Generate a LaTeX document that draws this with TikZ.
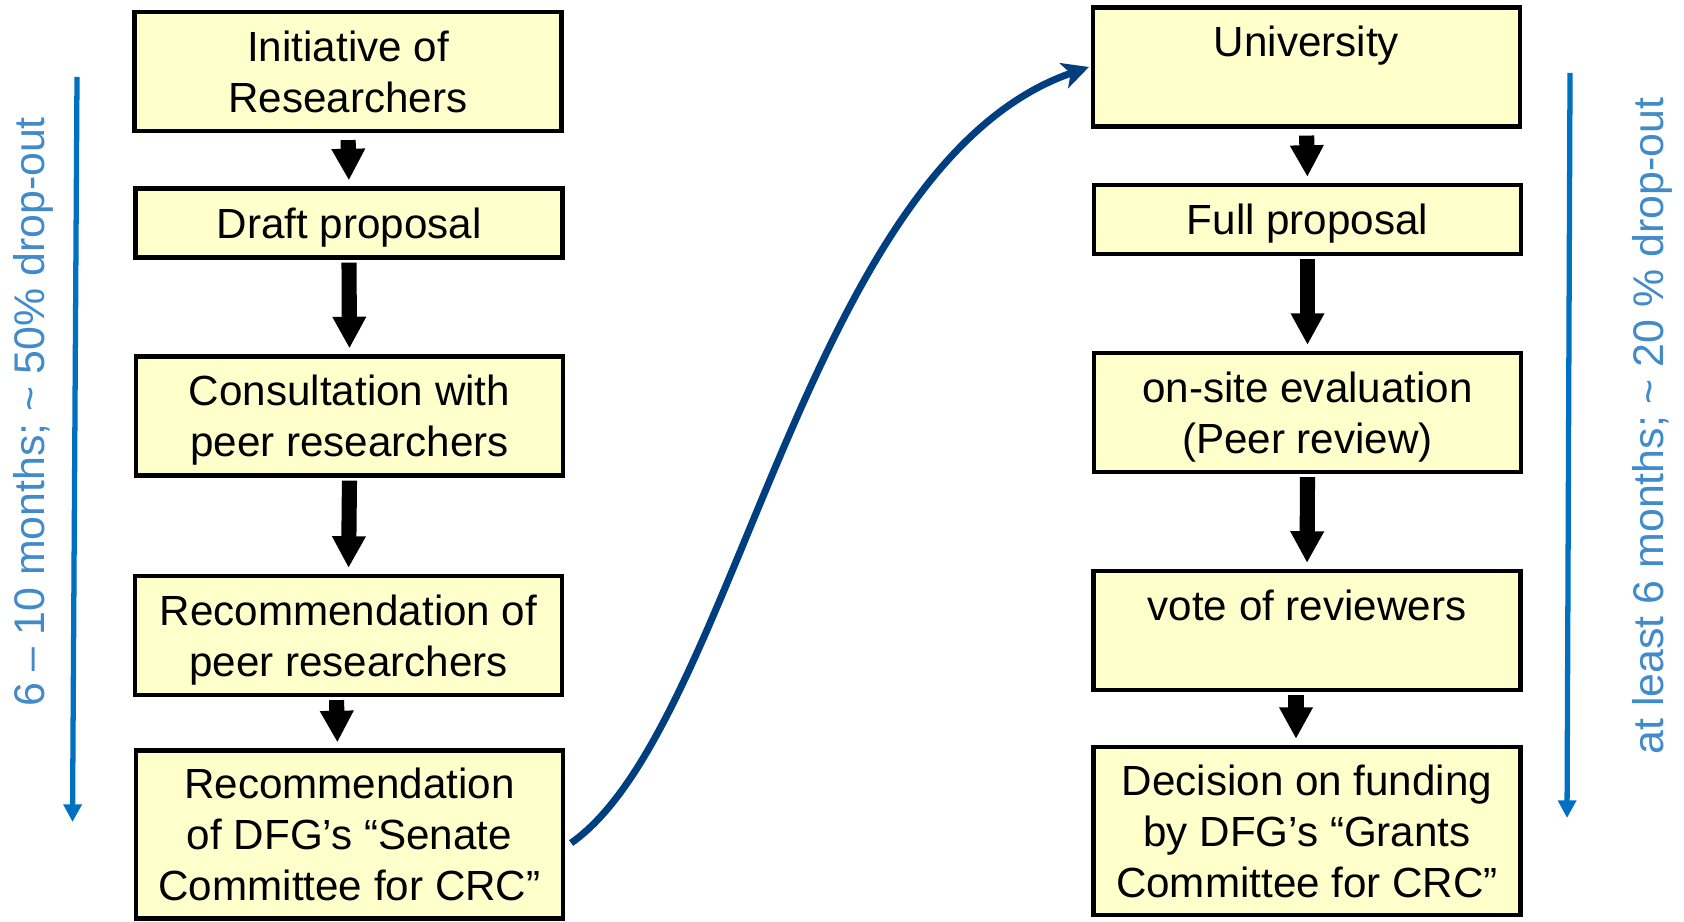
\documentclass[tikz,border=0pt]{standalone}
\usepackage{xcolor}
\usepackage{fontspec}
\setmainfont{Liberation Sans}
\usepackage{tikz}
\usetikzlibrary{arrows.meta, positioning}
\definecolor{paleyellow}{RGB}{255, 255, 204}
\definecolor{lineblue}{RGB}{0, 112, 192}
\definecolor{textblue}{RGB}{66, 139, 202}
\definecolor{deepblue}{RGB}{0, 63, 127}
\tikzset{
    stage/.style={draw, rectangle, fill=paleyellow, draw=black, text=black, line width=1.2pt, align=center, inner sep=0pt, text depth=0pt, minimum width=4.27cm, font=\fontsize{12}{14.5}\selectfont},
    stageTall/.style={stage, minimum height=1.19cm},
    stageLow/.style={stage, minimum height=0.69cm},
    stageBig/.style={stage, minimum height=1.68cm},
    push/.style={-{Triangle[width=9pt,length=9pt]}, black, line width=4.3pt, shorten <=0.03cm, shorten >=0.06cm},
    span/.style={-{Triangle[width=5pt,length=5pt]}, lineblue, line width=1.5pt},
    spantxt/.style={text=textblue, rotate=90, anchor=base, inner sep=0pt, font=\fontsize{12.2}{14}\selectfont},
    jump/.style={-{Stealth[length=7.5pt,width=7.5pt,inset=2pt]}, deepblue, line width=2pt},
}
\begin{document}
\begin{tikzpicture}
        \useasboundingbox (0,0) rectangle (16.84,9.21);

        % left column
        \node [stageTall] (L1) at (3.48,8.495) {Initiative of\\Researchers};
        \node [stageLow] (L2) at (3.49,6.98) {Draft proposal};
        \node [stageTall] (L3) at (3.495,5.05) {Consultation with\\peer researchers};
        \node [stageTall] (L4) at (3.485,2.855) {Recommendation of\\peer researchers};
        \node [stageBig] (L5) at (3.495,0.865) {Recommendation\\of DFG’s “Senate\\Committee for CRC”};

        % right column
        \node [stageTall] (R1) at (13.065,8.54) {University\\~};
        \node [stageLow] (R2) at (13.075,7.015) {Full proposal};
        \node [stageTall] (R3) at (13.075,5.085) {on-site evaluation\\(Peer review)};
        \node [stageTall] (R4) at (13.07,2.905) {vote of reviewers\\~};
        \node [stageBig] (R5) at (13.07,0.9) {Decision on funding\\by DFG’s “Grants\\Committee for CRC”};

        % durations
        \coordinate (ls) at (0.77,8.44);
        \coordinate (le) at (0.725,0.99);
        \coordinate (rs) at (15.70,8.48);
        \coordinate (re) at (15.67,1.03);
        \draw [span] (ls) -- (le);
        \draw [span] (rs) -- (re);
        \node [spantxt] (ltxt) at (0.445,5.09) {6 – 10 months; \textasciitilde{} 50\% drop-out};
        \node [spantxt] (rtxt) at (16.63,4.95) {at least 6 months; \textasciitilde{} 20 \% drop-out};

        \draw [push, shorten <=0.07cm] (L1.south) -- (L2.north);
        \draw [push] (L2.south) -- (L3.north);
        \draw [push] (L3.south) -- (L4.north);
        \draw [push] ([xshift=-0.12cm]L4.south) -- ([xshift=-0.12cm]L5.north);

        \draw [push, shorten <=0.07cm] (R1.south) -- (R2.north);
        \draw [push] (R2.south) -- (R3.north);
        \draw [push] (R3.south) -- (R4.north);
        \draw [push] ([xshift=-0.11cm]R4.south) -- ([xshift=-0.11cm]R5.north);

        \draw [jump] ([shift={(0.06,-0.085)}]L5.east) .. controls +(1.64,1.15) and +(-2.84,-0.98) .. ([xshift=-0.02cm]R1.west);
\end{tikzpicture}
\end{document}
